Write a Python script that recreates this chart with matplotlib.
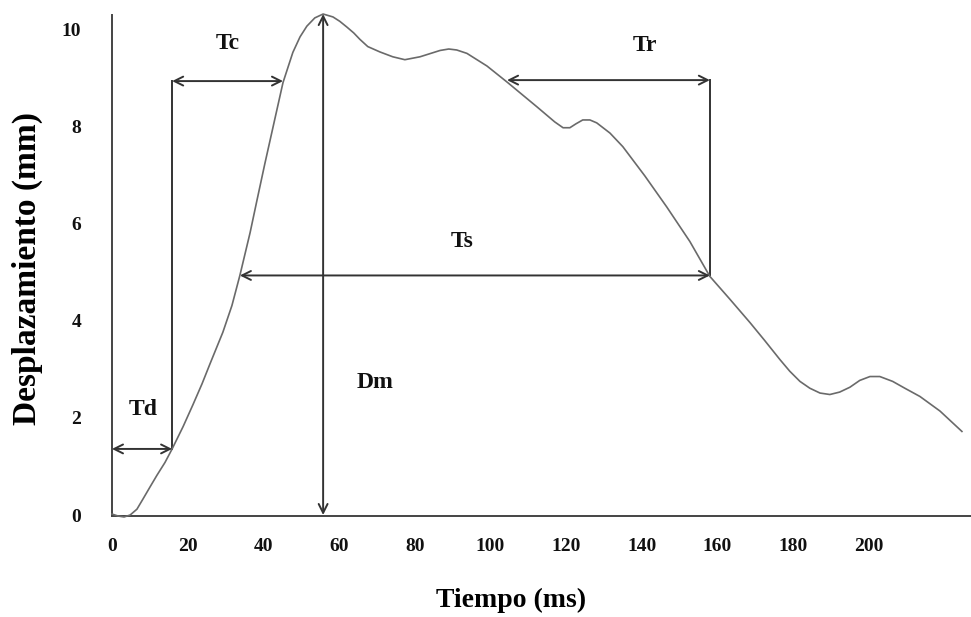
import matplotlib.pyplot as plt

# displacement curve
tiempo = [0, 1.6, 3.2, 4.8, 6.6, 8.2, 10.0, 11.9, 14.0, 15.9, 18.8, 21.4, 23.8,
          25.9, 29.3, 31.7, 33.8, 36.5, 38.3, 40.4, 43.1, 45.2, 47.8, 49.7, 51.5,
          53.6, 55.8, 58.4, 60.2, 62.1, 63.9, 65.5, 67.6, 70.8, 74.2, 77.4, 81.4,
          86.7, 89.0, 91.1, 93.8, 99.1, 104.4, 112.3, 117.0, 119.2, 121.0, 122.6,
          124.4, 126.3, 128.1, 131.6, 135.0, 140.8, 146.6, 152.7, 158.0, 163.3,
          168.6, 172.5, 176.5, 179.1, 181.8, 184.4, 187.1, 189.7, 192.3, 195.0,
          197.6, 200.3, 202.9, 206.3, 209.5, 213.5, 218.8, 224.6]
desplaz = [0.02, -0.02, -0.04, 0.0, 0.12, 0.33, 0.57, 0.82, 1.08, 1.36, 1.82,
           2.27, 2.70, 3.11, 3.76, 4.31, 4.93, 5.81, 6.47, 7.23, 8.17, 8.90,
           9.52, 9.84, 10.06, 10.23, 10.31, 10.25, 10.16, 10.04, 9.92, 9.79,
           9.64, 9.53, 9.43, 9.37, 9.43, 9.56, 9.59, 9.57, 9.50, 9.24, 8.91,
           8.40, 8.09, 7.97, 7.97, 8.05, 8.13, 8.13, 8.07, 7.86, 7.58, 6.98,
           6.34, 5.63, 4.91, 4.44, 3.96, 3.59, 3.20, 2.96, 2.75, 2.61, 2.51,
           2.48, 2.53, 2.63, 2.77, 2.85, 2.85, 2.75, 2.61, 2.44, 2.14, 1.72]

x_ticks = [0, 20, 40, 60, 80, 100, 120, 140, 160, 180, 200]
y_ticks = [0, 2, 4, 6, 8, 10]

# characteristic times / max displacement
t_d = 15.9      # Td end
t_c_end = 45.2  # Tc end
t_max = 55.8    # time of Dm
d_max = 10.31
t_s_start = 33.8
t_end = 158.0
t_r_start = 104.4
y_td = 1.36
y_tc = 8.93
y_ts = 4.93
y_tr = 8.95

fig = plt.figure(figsize=(9.71, 6.17), dpi=100)
ax = fig.add_axes([0.1153, 0.1637, 0.8847, 0.812])

ax.plot(tiempo, desplaz, color='#6a6a6a', lw=1.2, clip_on=False, zorder=3,
        solid_joinstyle='round')

arrow = dict(arrowstyle='<->', color='#333333', lw=1.4, shrinkA=0, shrinkB=0,
             mutation_scale=16)
line_kw = dict(color='#333333', lw=1.4)

ax.annotate('', xy=(0, y_td), xytext=(t_d, y_td), arrowprops=arrow)
ax.plot([t_d, t_d], [y_td, y_tc], **line_kw)
ax.annotate('', xy=(t_d, y_tc), xytext=(t_c_end, y_tc), arrowprops=arrow)
ax.annotate('', xy=(t_max, 0), xytext=(t_max, d_max), arrowprops=arrow)
ax.annotate('', xy=(t_s_start, y_ts), xytext=(t_end, y_ts), arrowprops=arrow)
ax.plot([t_end, t_end], [y_ts, y_tr], **line_kw)
ax.annotate('', xy=(t_r_start, y_tr), xytext=(t_end, y_tr), arrowprops=arrow)

lab = dict(family='Liberation Serif', fontweight='bold', fontsize=17,
           ha='center', va='center', color='#111111')
ax.text(8.2, 2.18, 'Td', **lab)
ax.text(30.6, 9.71, 'Tc', **lab)
ax.text(69.5, 2.73, 'Dm', **lab)
ax.text(92.5, 5.63, 'Ts', **lab)
ax.text(140.8, 9.67, 'Tr', **lab)

ax.set_xlim(0, 227)
ax.set_ylim(-0.02, 10.29)
ax.set_xticks(x_ticks)
ax.set_yticks(y_ticks)
ax.tick_params(length=0, labelsize=14, pad=0, labelcolor='#111111')
ax.tick_params(axis='x', pad=16)
ax.tick_params(axis='y', pad=22)
for t in ax.get_xticklabels() + ax.get_yticklabels():
    t.set_family('Liberation Serif')
    t.set_fontweight('bold')

for s in ['top', 'right']:
    ax.spines[s].set_visible(False)
for s in ['left', 'bottom']:
    ax.spines[s].set_color('#444444')
    ax.spines[s].set_linewidth(1.4)

ax.set_xlabel('Tiempo (ms)', family='Liberation Serif', fontweight='bold',
              fontsize=20, va='center')
ax.xaxis.set_label_coords(0.4645, -0.168)
ax.set_ylabel('Desplazamiento (mm)', family='Liberation Serif', fontweight='bold',
              fontsize=24, va='center')
ax.yaxis.set_label_coords(-0.099, 0.495)

fig.savefig('out.png', dpi=100)
